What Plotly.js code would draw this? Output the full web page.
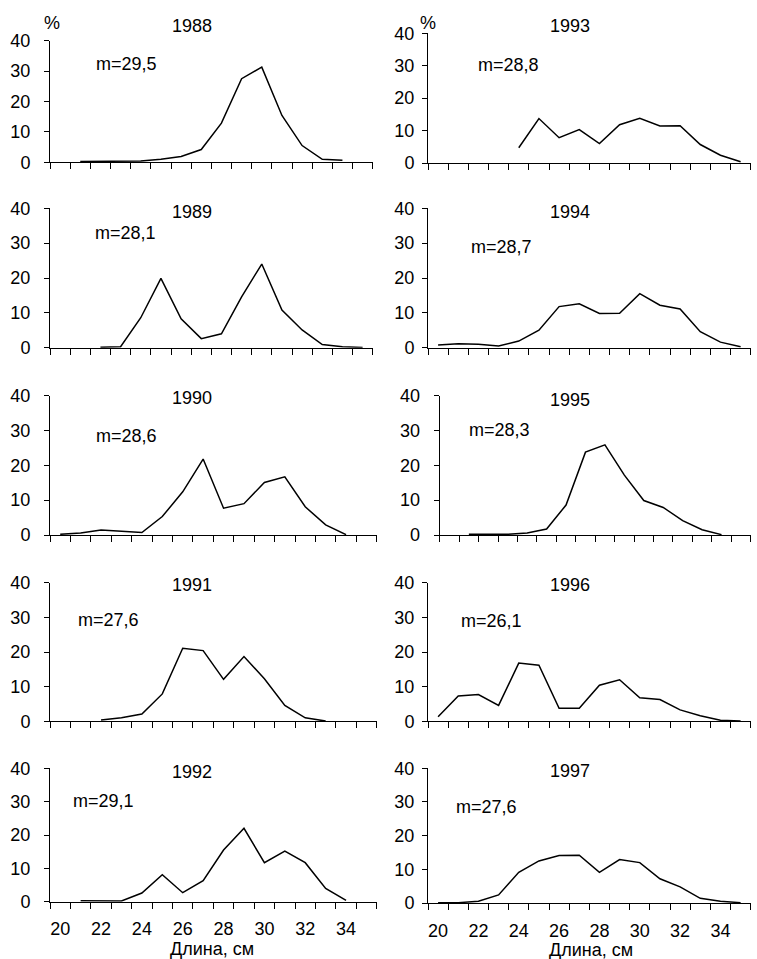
<!DOCTYPE html>
<html>
<head>
<meta charset="utf-8">
<script src="https://cdn.plot.ly/plotly-3.0.1.min.js"></script>
<style>html,body{margin:0;padding:0;background:#fff;}#chart{width:757px;height:959px;}</style>
</head>
<body>
<div id="chart"></div>
<script>
// ---- DATA ----
const lengthClasses = [20,21,22,23,24,25,26,27,28,29,30,31,32,33,34,35];
const xTickLabels = [20,22,24,26,28,30,32,34];
const yTickValues = [0,10,20,30,40];
const years = ['1988','1993','1989','1994','1990','1995','1991','1996','1992','1997'];
const meanLabels = ['m=29,5','m=28,8','m=28,1','m=28,7','m=28,6','m=28,3','m=27,6','m=26,1','m=29,1','m=27,6'];
const xAxisTitle = 'Длина, см';
const yUnit = '%';

const share1988 = [null,0.3,0.3,0.5,0.4,1.0,1.9,4.2,12.9,27.5,31.3,15.4,5.5,1.0,0.7,null];
const share1993 = [null,null,null,null,4.7,13.7,7.8,10.3,6.0,11.8,13.8,11.4,11.5,5.7,2.4,0.4];
const share1989 = [null,null,0.1,0.3,8.6,19.9,8.3,2.6,4.0,14.6,24.0,10.8,5.1,0.9,0.3,0.05];
const share1994 = [0.8,1.1,1.0,0.5,1.9,5.0,11.8,12.6,9.8,9.9,15.5,12.2,11.1,4.6,1.6,0.3];
const share1990 = [0.2,0.6,1.4,1.0,0.7,5.3,12.4,21.8,7.7,9.0,15.1,16.7,8.1,2.9,0.1,null];
const share1995 = [null,0.2,0.2,0.2,0.6,1.7,8.6,23.8,25.9,17.2,9.9,7.9,4.1,1.5,0.1,null];
const share1991 = [null,null,0.4,1.0,2.1,7.9,21.1,20.4,12.1,18.7,12.3,4.6,1.0,0.1,null,null];
const share1996 = [1.3,7.3,7.7,4.6,16.8,16.2,3.75,3.75,10.4,12.0,6.8,6.3,3.3,1.6,0.3,0.1];
const share1992 = [null,0.3,0.2,0.2,2.6,8.1,2.7,6.3,15.5,22.0,11.7,15.2,11.7,4.0,0.4,null];
const share1997 = [0.1,0.1,0.5,2.4,9.1,12.5,14.1,14.2,9.1,12.9,12.0,7.2,4.8,1.4,0.5,0.1];

const seriesList = [share1988,share1993,share1989,share1994,share1990,share1995,share1991,share1996,share1992,share1997];

// ---- LAYOUT (pixel geometry) ----
const W = 757, H = 959;
const FONT = {family:'"Liberation Sans", Arial, sans-serif', size:18, color:'#000'};
// panel: x0,x1 (axis left/right px), yTop (40), yBot (0), y-label standoff, bottom row flag
const panels = [
  {x0:50, x1:372.7, yt:40.7, yb:162.3, so:10, bottom:false},
  {x0:428,x1:750.7, yt:33.3, yb:163,   so:4,  bottom:false},
  {x0:50, x1:372.7, yt:208.3,yb:347.7, so:10, bottom:false},
  {x0:428,x1:750.7, yt:208.3,yb:347.7, so:4,  bottom:false},
  {x0:50, x1:376.7, yt:395.7,yb:535,   so:10, bottom:false},
  {x0:439.7,x1:750.7,yt:395.7,yb:535,  so:10, bottom:false},
  {x0:50, x1:376.7, yt:582.7,yb:721.3, so:10, bottom:false},
  {x0:428,x1:750.7, yt:582.7,yb:721.3, so:4,  bottom:false},
  {x0:50, x1:376.7, yt:768.3,yb:901.7, so:10, bottom:true, xso:11},
  {x0:428,x1:750.7, yt:768.3,yb:903,   so:4,  bottom:true, xso:11}
];
const titlePos = [[191.7,26],[569.7,26],[191.7,211.7],[569.7,211.7],[191.7,398],[569.7,400],[191.7,585],[569.7,585],[191.7,772.3],[569.7,771]];
const meanPos = [[126.7,64],[508,65],[125,233.3],[501.3,247.3],[126.7,436],[499.7,430],[108.3,620],[491.3,621],[103.3,801],[486.3,806.7]];
const unitPos = [[51.7,22.7],[428,22.7]];
const xTitlePos = [[212,948.5],[591,949.5]];

const px = x => x / W;
const py = y => 1 - y / H;

const traces = [];
const layout = {
  width: W, height: H,
  margin: {l:0, r:0, t:0, b:0},
  paper_bgcolor: '#fff', plot_bgcolor: 'rgba(0,0,0,0)',
  showlegend: false,
  font: FONT,
  annotations: []
};

panels.forEach((p, i) => {
  const n = i + 1;
  const xa = n === 1 ? 'x' : 'x' + n;
  const ya = n === 1 ? 'y' : 'y' + n;
  traces.push({
    type: 'scatter', mode: 'lines',
    x: lengthClasses, y: seriesList[i],
    xaxis: xa, yaxis: ya,
    line: {color:'#000', width:1.5},
    connectgaps: false, hoverinfo: 'skip'
  });
  layout['xaxis' + (n === 1 ? '' : n)] = {
    domain: [px(p.x0), px(p.x1)],
    anchor: ya,
    range: [19.5, 35.5],
    showgrid: false, zeroline: false,
    showline: true, linecolor: '#000', linewidth: 1,
    tickmode: 'array', tickvals: xTickLabels,
    ticks: '', showticklabels: p.bottom,
    ticklabelstandoff: p.xso || 0,
    tickfont: FONT,
    minor: {tickmode:'linear', tick0:19.5, dtick:1, ticks:'outside', ticklen:6, tickcolor:'#000', tickwidth:1, showgrid:false},
    fixedrange: true
  };
  layout['yaxis' + (n === 1 ? '' : n)] = {
    domain: [py(p.yb), py(p.yt)],
    anchor: xa,
    range: [0, 40],
    showgrid: false, zeroline: false,
    showline: true, linecolor: '#000', linewidth: 1,
    tickmode: 'array', tickvals: yTickValues,
    ticks: 'outside', ticklen: 5, tickcolor: '#000',
    ticklabelstandoff: p.so,
    tickfont: FONT,
    fixedrange: true
  };
  layout.annotations.push({
    xref:'paper', yref:'paper', x:px(titlePos[i][0]), y:py(titlePos[i][1]),
    xanchor:'center', yanchor:'middle', showarrow:false, text: years[i], font: FONT
  });
  layout.annotations.push({
    xref:'paper', yref:'paper', x:px(meanPos[i][0]), y:py(meanPos[i][1]),
    xanchor:'center', yanchor:'middle', showarrow:false, text: meanLabels[i], font: FONT
  });
});
unitPos.forEach(u => layout.annotations.push({
  xref:'paper', yref:'paper', x:px(u[0]), y:py(u[1]),
  xanchor:'center', yanchor:'middle', showarrow:false, text: yUnit, font: FONT
}));
xTitlePos.forEach(t => layout.annotations.push({
  xref:'paper', yref:'paper', x:px(t[0]), y:py(t[1]),
  xanchor:'center', yanchor:'middle', showarrow:false, text: xAxisTitle, font: FONT
}));

Plotly.newPlot('chart', traces, layout, {displayModeBar:false, staticPlot:true});
</script>
</body>
</html>
